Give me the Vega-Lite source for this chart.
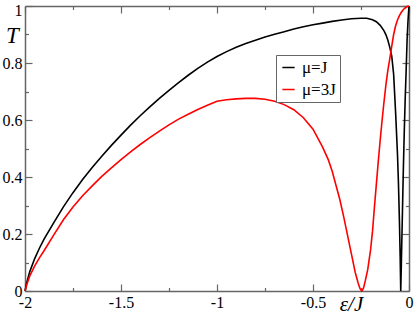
{
  "$schema": "https://vega.github.io/schema/vega-lite/v6.json",
  "width": 384,
  "height": 285,
  "autosize": {"type": "none"},
  "padding": {"left": 25, "top": 6, "right": 6, "bottom": 23},
  "background": "white",
  "config": {
    "view": {"stroke": null},
    "axis": {
      "grid": false,
      "domainColor": "#666666",
      "domainWidth": 1.5,
      "tickColor": "#666666",
      "tickWidth": 1.2,
      "labelColor": "#000000",
      "labelFont": "Liberation Serif",
      "labelFontSize": 16,
      "labelOverlap": false,
      "labelFlush": false,
      "labelBound": false,
      "titleColor": "#000000",
      "titleFont": "Liberation Serif",
      "titleFontWeight": "normal"
    }
  },
  "data": {
    "values": [
      {"x": -2, "T": 0, "s": "μ=J"},
      {"x": -1.99, "T": 0.032, "s": "μ=J"},
      {"x": -1.975, "T": 0.068, "s": "μ=J"},
      {"x": -1.95, "T": 0.113, "s": "μ=J"},
      {"x": -1.925, "T": 0.15, "s": "μ=J"},
      {"x": -1.9, "T": 0.183, "s": "μ=J"},
      {"x": -1.85, "T": 0.24, "s": "μ=J"},
      {"x": -1.8, "T": 0.295, "s": "μ=J"},
      {"x": -1.75, "T": 0.345, "s": "μ=J"},
      {"x": -1.7, "T": 0.391, "s": "μ=J"},
      {"x": -1.65, "T": 0.433, "s": "μ=J"},
      {"x": -1.6, "T": 0.473, "s": "μ=J"},
      {"x": -1.55, "T": 0.511, "s": "μ=J"},
      {"x": -1.5, "T": 0.547, "s": "μ=J"},
      {"x": -1.45, "T": 0.582, "s": "μ=J"},
      {"x": -1.4, "T": 0.615, "s": "μ=J"},
      {"x": -1.35, "T": 0.646, "s": "μ=J"},
      {"x": -1.3, "T": 0.676, "s": "μ=J"},
      {"x": -1.25, "T": 0.704, "s": "μ=J"},
      {"x": -1.2, "T": 0.731, "s": "μ=J"},
      {"x": -1.15, "T": 0.757, "s": "μ=J"},
      {"x": -1.1, "T": 0.781, "s": "μ=J"},
      {"x": -1.05, "T": 0.803, "s": "μ=J"},
      {"x": -1.0, "T": 0.823, "s": "μ=J"},
      {"x": -0.95, "T": 0.84, "s": "μ=J"},
      {"x": -0.9, "T": 0.855, "s": "μ=J"},
      {"x": -0.85, "T": 0.868, "s": "μ=J"},
      {"x": -0.8, "T": 0.88, "s": "μ=J"},
      {"x": -0.75, "T": 0.891, "s": "μ=J"},
      {"x": -0.7, "T": 0.901, "s": "μ=J"},
      {"x": -0.65, "T": 0.91, "s": "μ=J"},
      {"x": -0.6, "T": 0.919, "s": "μ=J"},
      {"x": -0.55, "T": 0.927, "s": "μ=J"},
      {"x": -0.5, "T": 0.934, "s": "μ=J"},
      {"x": -0.45, "T": 0.94, "s": "μ=J"},
      {"x": -0.4, "T": 0.946, "s": "μ=J"},
      {"x": -0.35, "T": 0.951, "s": "μ=J"},
      {"x": -0.3, "T": 0.955, "s": "μ=J"},
      {"x": -0.25, "T": 0.957, "s": "μ=J"},
      {"x": -0.22, "T": 0.957, "s": "μ=J"},
      {"x": -0.19, "T": 0.952, "s": "μ=J"},
      {"x": -0.17, "T": 0.945, "s": "μ=J"},
      {"x": -0.15, "T": 0.932, "s": "μ=J"},
      {"x": -0.13, "T": 0.913, "s": "μ=J"},
      {"x": -0.12, "T": 0.899, "s": "μ=J"},
      {"x": -0.11, "T": 0.88, "s": "μ=J"},
      {"x": -0.1, "T": 0.855, "s": "μ=J"},
      {"x": -0.09, "T": 0.825, "s": "μ=J"},
      {"x": -0.08, "T": 0.76, "s": "μ=J"},
      {"x": -0.07, "T": 0.63, "s": "μ=J"},
      {"x": -0.06, "T": 0.48, "s": "μ=J"},
      {"x": -0.055, "T": 0.38, "s": "μ=J"},
      {"x": -0.05, "T": 0.25, "s": "μ=J"},
      {"x": -0.046, "T": 0.12, "s": "μ=J"},
      {"x": -0.043, "T": 0, "s": "μ=J"},
      {"x": -0.04, "T": 0.09, "s": "μ=J"},
      {"x": -0.035, "T": 0.25, "s": "μ=J"},
      {"x": -0.03, "T": 0.41, "s": "μ=J"},
      {"x": -0.025, "T": 0.55, "s": "μ=J"},
      {"x": -0.02, "T": 0.67, "s": "μ=J"},
      {"x": -0.015, "T": 0.77, "s": "μ=J"},
      {"x": -0.01, "T": 0.88, "s": "μ=J"},
      {"x": -0.005, "T": 0.95, "s": "μ=J"},
      {"x": 0, "T": 1, "s": "μ=J"},
      {"x": -2, "T": 0, "s": "μ=3J"},
      {"x": -1.99, "T": 0.024, "s": "μ=3J"},
      {"x": -1.975, "T": 0.053, "s": "μ=3J"},
      {"x": -1.95, "T": 0.087, "s": "μ=3J"},
      {"x": -1.925, "T": 0.116, "s": "μ=3J"},
      {"x": -1.9, "T": 0.142, "s": "μ=3J"},
      {"x": -1.85, "T": 0.197, "s": "μ=3J"},
      {"x": -1.8, "T": 0.25, "s": "μ=3J"},
      {"x": -1.75, "T": 0.295, "s": "μ=3J"},
      {"x": -1.7, "T": 0.334, "s": "μ=3J"},
      {"x": -1.65, "T": 0.369, "s": "μ=3J"},
      {"x": -1.6, "T": 0.402, "s": "μ=3J"},
      {"x": -1.55, "T": 0.432, "s": "μ=3J"},
      {"x": -1.5, "T": 0.461, "s": "μ=3J"},
      {"x": -1.45, "T": 0.488, "s": "μ=3J"},
      {"x": -1.4, "T": 0.514, "s": "μ=3J"},
      {"x": -1.35, "T": 0.538, "s": "μ=3J"},
      {"x": -1.3, "T": 0.561, "s": "μ=3J"},
      {"x": -1.25, "T": 0.583, "s": "μ=3J"},
      {"x": -1.2, "T": 0.603, "s": "μ=3J"},
      {"x": -1.15, "T": 0.62, "s": "μ=3J"},
      {"x": -1.1, "T": 0.637, "s": "μ=3J"},
      {"x": -1.05, "T": 0.652, "s": "μ=3J"},
      {"x": -1.0, "T": 0.666, "s": "μ=3J"},
      {"x": -0.95, "T": 0.671, "s": "μ=3J"},
      {"x": -0.9, "T": 0.674, "s": "μ=3J"},
      {"x": -0.85, "T": 0.676, "s": "μ=3J"},
      {"x": -0.8, "T": 0.676, "s": "μ=3J"},
      {"x": -0.75, "T": 0.673, "s": "μ=3J"},
      {"x": -0.7, "T": 0.666, "s": "μ=3J"},
      {"x": -0.65, "T": 0.654, "s": "μ=3J"},
      {"x": -0.6, "T": 0.636, "s": "μ=3J"},
      {"x": -0.55, "T": 0.608, "s": "μ=3J"},
      {"x": -0.5, "T": 0.568, "s": "μ=3J"},
      {"x": -0.45, "T": 0.505, "s": "μ=3J"},
      {"x": -0.42, "T": 0.46, "s": "μ=3J"},
      {"x": -0.4, "T": 0.42, "s": "μ=3J"},
      {"x": -0.38, "T": 0.37, "s": "μ=3J"},
      {"x": -0.36, "T": 0.32, "s": "μ=3J"},
      {"x": -0.34, "T": 0.26, "s": "μ=3J"},
      {"x": -0.32, "T": 0.195, "s": "μ=3J"},
      {"x": -0.3, "T": 0.13, "s": "μ=3J"},
      {"x": -0.28, "T": 0.065, "s": "μ=3J"},
      {"x": -0.265, "T": 0.028, "s": "μ=3J"},
      {"x": -0.255, "T": 0.008, "s": "μ=3J"},
      {"x": -0.246, "T": 0, "s": "μ=3J"},
      {"x": -0.237, "T": 0.01, "s": "μ=3J"},
      {"x": -0.228, "T": 0.035, "s": "μ=3J"},
      {"x": -0.215, "T": 0.075, "s": "μ=3J"},
      {"x": -0.2, "T": 0.145, "s": "μ=3J"},
      {"x": -0.19, "T": 0.21, "s": "μ=3J"},
      {"x": -0.18, "T": 0.295, "s": "μ=3J"},
      {"x": -0.17, "T": 0.375, "s": "μ=3J"},
      {"x": -0.16, "T": 0.455, "s": "μ=3J"},
      {"x": -0.15, "T": 0.53, "s": "μ=3J"},
      {"x": -0.14, "T": 0.6, "s": "μ=3J"},
      {"x": -0.13, "T": 0.665, "s": "μ=3J"},
      {"x": -0.12, "T": 0.725, "s": "μ=3J"},
      {"x": -0.11, "T": 0.775, "s": "μ=3J"},
      {"x": -0.1, "T": 0.815, "s": "μ=3J"},
      {"x": -0.09, "T": 0.858, "s": "μ=3J"},
      {"x": -0.08, "T": 0.9, "s": "μ=3J"},
      {"x": -0.07, "T": 0.93, "s": "μ=3J"},
      {"x": -0.06, "T": 0.951, "s": "μ=3J"},
      {"x": -0.05, "T": 0.966, "s": "μ=3J"},
      {"x": -0.04, "T": 0.978, "s": "μ=3J"},
      {"x": -0.03, "T": 0.987, "s": "μ=3J"},
      {"x": -0.02, "T": 0.993, "s": "μ=3J"},
      {"x": -0.01, "T": 0.998, "s": "μ=3J"},
      {"x": 0, "T": 1, "s": "μ=3J"}
    ]
  },
  "layer": [
    {
      "mark": {"type": "line", "strokeWidth": 1.6},
      "encoding": {
        "x": {
          "field": "x", "type": "quantitative",
          "scale": {"domain": [-2, 0], "nice": false, "zero": false},
          "axis": {
            "orient": "bottom",
            "values": [-2, -1.5, -1, -0.5, 0],
            "tickSize": -7,
            "labelPadding": 10,
            "labelExpr": "'' + datum.value",
            "title": "ε/J",
            "titleFontSize": 21,
            "titleFontStyle": "italic",
            "titleAnchor": "start",
            "titleAlign": "center",
            "titleBaseline": "alphabetic",
            "titleX": 326,
            "titleY": 19
          }
        },
        "y": {
          "field": "T", "type": "quantitative",
          "scale": {"domain": [0, 1], "nice": false, "zero": false},
          "axis": {
            "orient": "left",
            "values": [0, 0.2, 0.4, 0.6, 0.8, 1],
            "tickSize": -7,
            "labelPadding": 10,
            "labelOffset": {"condition": {"test": "datum.value === 1", "value": 4}, "value": 0},
            "labelExpr": "'' + datum.value",
            "title": "T",
            "titleAngle": 0,
            "titleFontSize": 23,
            "titleFontStyle": "italic",
            "titleAlign": "center",
            "titleBaseline": "alphabetic",
            "titleX": -13,
            "titleY": 36
          }
        },
        "color": {
          "field": "s", "type": "nominal",
          "scale": {"domain": ["μ=J", "μ=3J"], "range": ["#000000", "#ff0000"]},
          "legend": {
            "orient": "none",
            "legendX": 251,
            "legendY": 49,
            "title": null,
            "strokeColor": "#666666",
            "fillColor": "#ffffff",
            "padding": 4,
            "rowPadding": 4,
            "symbolType": "stroke",
            "symbolSize": 150,
            "symbolStrokeWidth": 1.5,
            "labelFont": "Liberation Serif",
            "labelFontSize": 17,
            "labelColor": "#000000",
            "labelOffset": 5
          }
        }
      }
    },
    {
      "mark": {"type": "line", "strokeOpacity": 0},
      "encoding": {
        "x": {"field": "x", "type": "quantitative",
          "axis": {"orient": "top", "values": [-2, -1.5, -1, -0.5, 0], "tickSize": -7, "labels": false, "title": null}},
        "y": {"field": "T", "type": "quantitative",
          "axis": {"orient": "right", "values": [0, 0.2, 0.4, 0.6, 0.8, 1], "tickSize": -7, "labels": false, "title": null}},
        "detail": {"field": "s"}
      }
    },
    {
      "mark": {"type": "line", "strokeOpacity": 0},
      "encoding": {
        "x": {"field": "x", "type": "quantitative",
          "axis": {"orient": "bottom", "values": [-1.75, -1.25, -0.75, -0.25], "tickSize": -3.5, "labels": false, "domain": false, "title": null}},
        "y": {"field": "T", "type": "quantitative",
          "axis": {"orient": "left", "values": [0.1, 0.3, 0.5, 0.7, 0.9], "tickSize": -3.5, "labels": false, "domain": false, "title": null}},
        "detail": {"field": "s"}
      }
    },
    {
      "mark": {"type": "line", "strokeOpacity": 0},
      "encoding": {
        "x": {"field": "x", "type": "quantitative",
          "axis": {"orient": "top", "values": [-1.75, -1.25, -0.75, -0.25], "tickSize": -3.5, "labels": false, "domain": false, "title": null}},
        "y": {"field": "T", "type": "quantitative",
          "axis": {"orient": "right", "values": [0.1, 0.3, 0.5, 0.7, 0.9], "tickSize": -3.5, "labels": false, "domain": false, "title": null}},
        "detail": {"field": "s"}
      }
    }
  ],
  "resolve": {"axis": {"x": "independent", "y": "independent"}}
}
